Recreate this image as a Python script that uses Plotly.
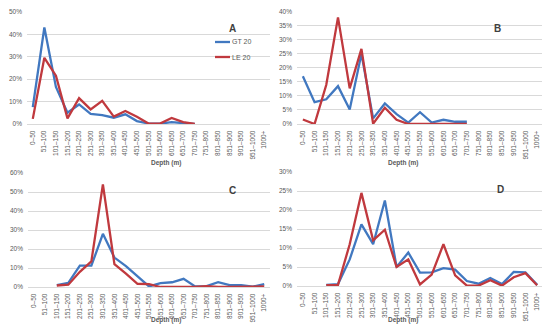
import plotly.graph_objects as go

categories = ["0–50", "51–100", "101–150", "151–200", "201–250", "251–300", "301–350",
              "351–400", "401–450", "451–500", "501–550", "551–600", "601–650", "651–700",
              "701–750", "751–800", "801–850", "851–900", "901–950", "951–1000", "1000+"]

N = None
a_gt = [7.5, 43, 16.5, 5, 8.7, 4.5, 4, 2.8, 4.3, 1.3, 0.2, 0.2, 0.8, 0.3, 0] + [N] * 6
a_le = [2.3, 29.5, 21.5, 2.5, 11.5, 6.5, 10.3, 3.3, 5.8, 3.2, 0.2, 0.2, 2.7, 0.8, 0] + [N] * 6
b_gt = [17, 7.8, 8.8, 13.5, 5.2, 25, 2, 7.3, 3.5, 0.5, 4.2, 0.5, 1.5, 0.8, 0.8] + [N] * 6
b_le = [1.6, 0, 14, 38, 12.7, 26.8, 0.1, 5.8, 1.5, 0, 0, 0, 0, 0, 0] + [N] * 6
c_gt = [N, N, 1, 2.2, 11.2, 11.2, 28, 15.5, 11, 5.5, 0.3, 2, 2.5, 4.3, 0.3, 0.5, 2.5, 1, 1, 0.2, 1.5]
c_le = [N, N, 0.8, 1.2, 8, 13.5, 54, 12, 7, 1.7, 1.5, 0, 0, 0, 0, 0.5, 0, 0, 0, 0, 0.3]
d_gt = [N, N, 0.3, 0.5, 7, 16.2, 11, 22.5, 5, 8.8, 3.5, 3.6, 4.7, 4.3, 1.3, 0.6, 2.1, 0.5, 3.7, 3.6, 0.3]
d_le = [N, N, 0.2, 0.3, 11, 24.5, 12, 14.8, 5, 7, 0.4, 3, 11, 2.8, 0.1, 0.1, 1.5, 0.1, 2.3, 3.4, 0.2]

panel_letters = ["A", "B", "C", "D"]
y_max = [50, 40, 60, 30]
y_step = [10, 5, 10, 5]
series_names = ["GT 20", "LE 20"]
x_title = "Depth (m)"

BLUE = "#4178C0"
RED = "#C0393E"
GRID = "#D9D9D9"
TXT = "#595959"
FONT = "Liberation Sans"

W, H = 550, 336
OFF = 8  # page body margin offset


def fx(px):
    return (px - OFF) / W


def fy(py):
    return 1 - (py - OFF) / H


# plot areas in screen pixels: (left, right, top, bottom)
boxes = [(27, 270, 11.8, 124), (297, 543, 11.8, 124), (28, 270, 173, 287), (297, 543, 172, 286)]
title_y = [163, 163, 326, 326]

data = [(a_gt, a_le), (b_gt, b_le), (c_gt, c_le), (d_gt, d_le)]

fig = go.Figure()
layout = {}
annotations = []
shapes = []
for i, ((gt, le), (l, r, t, b)) in enumerate(zip(data, boxes)):
    n = i + 1
    xa = "x" if n == 1 else f"x{n}"
    ya = "y" if n == 1 else f"y{n}"
    fig.add_trace(go.Scatter(x=categories, y=gt, mode="lines", name=series_names[0],
                             line=dict(color=BLUE, width=2.3), xaxis=xa, yaxis=ya,
                             showlegend=False, connectgaps=False))
    fig.add_trace(go.Scatter(x=categories, y=le, mode="lines", name=series_names[1],
                             line=dict(color=RED, width=2.3), xaxis=xa, yaxis=ya,
                             showlegend=False, connectgaps=False))
    xkey = "xaxis" if n == 1 else f"xaxis{n}"
    ykey = "yaxis" if n == 1 else f"yaxis{n}"
    layout[xkey] = dict(domain=[fx(l), fx(r)], anchor=ya, type="category",
                        categoryorder="array", categoryarray=categories,
                        range=[-0.5, len(categories) - 0.5], tickangle=-90,
                        tickfont=dict(size=6.5, color=TXT, family=FONT),
                        showgrid=False, showline=True, linecolor=GRID, linewidth=1,
                        ticks="", automargin=False, ticklabelstandoff=3,
                        ticklabeloverflow="allow")
    layout[ykey] = dict(domain=[fy(b), fy(t)], anchor=xa, range=[0, y_max[i]],
                        dtick=y_step[i], tick0=0, ticksuffix="%",
                        tickfont=dict(size=6.5, color=TXT, family=FONT),
                        showgrid=True, gridcolor=GRID, gridwidth=1, zeroline=False,
                        showline=False, ticks="", automargin=False, ticklabelstandoff=4,
                        ticklabeloverflow="allow")
    annotations.append(dict(x=fx((l + r) / 2), y=fy(title_y[i]), xref="paper", yref="paper",
                            text=f"<b>{x_title}</b>", showarrow=False,
                            font=dict(size=6.5, color=TXT, family=FONT)))

letter_pos = [(232, 21), (503, 21), (232, 190), (506, 189)]
for (px, py), letter in zip(letter_pos, panel_letters):
    annotations.append(dict(x=fx(px), y=fy(py), xref="paper", yref="paper",
                            text=f"<b>{letter}</b>", showarrow=False,
                            font=dict(size=10, color="#404040", family=FONT)))

# manual legend (panel A)
for name, color, py in [(series_names[0], BLUE, 42), (series_names[1], RED, 57)]:
    shapes.append(dict(type="line", xref="paper", yref="paper",
                       x0=fx(215), x1=fx(230), y0=fy(py), y1=fy(py),
                       line=dict(color=color, width=2.3)))
    annotations.append(dict(x=fx(230), y=fy(py), xref="paper", yref="paper",
                            text=name, showarrow=False, xanchor="left", yanchor="middle",
                            font=dict(size=7, color=TXT, family=FONT)))

fig.update_layout(**layout)
fig.update_layout(
    width=W, height=H, margin=dict(l=0, r=0, t=0, b=0),
    paper_bgcolor="white", plot_bgcolor="white",
    annotations=annotations, shapes=shapes,
    showlegend=False,
    font=dict(family=FONT),
)

fig.write_html("out.html")
